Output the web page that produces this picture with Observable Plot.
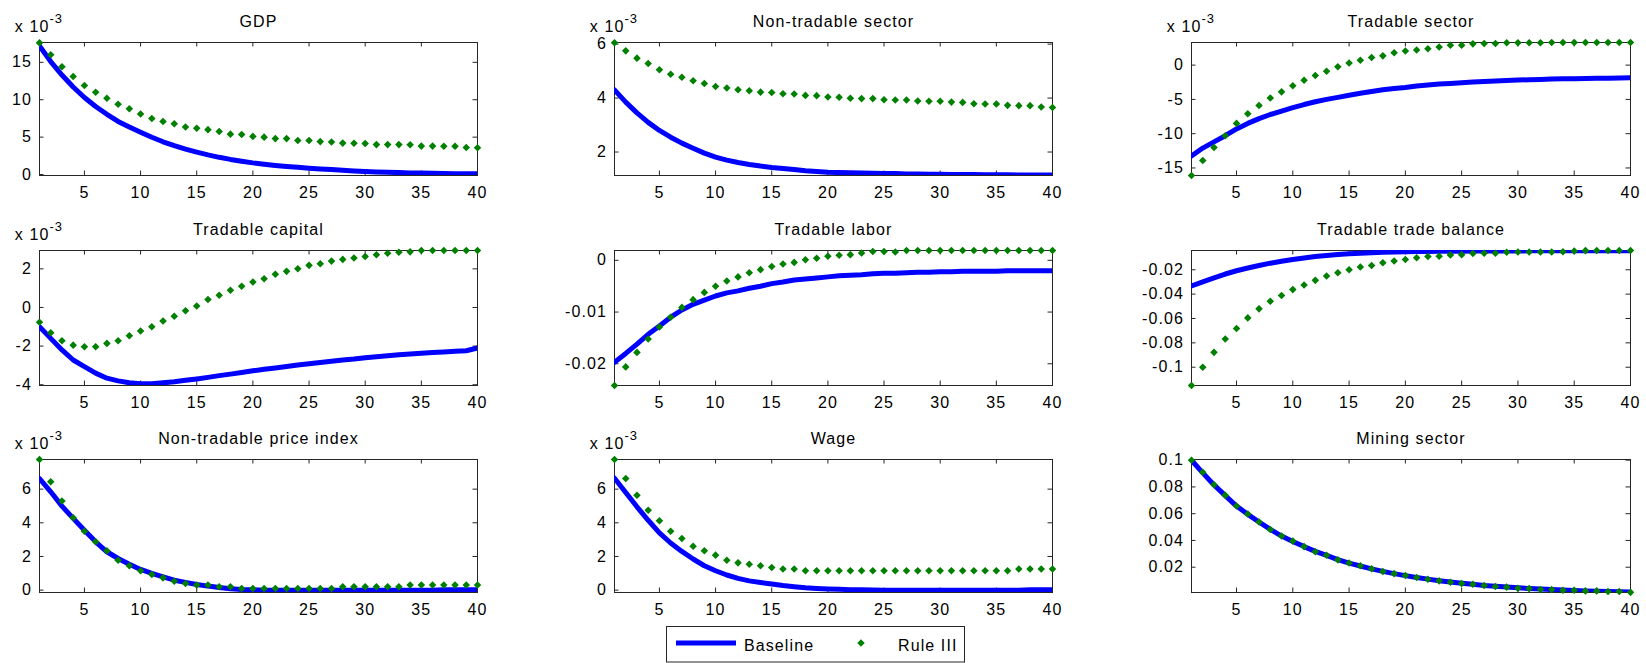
<!DOCTYPE html>
<html>
<head>
<meta charset="utf-8">
<script src="https://cdn.jsdelivr.net/npm/d3@7"></script>
<script src="https://cdn.jsdelivr.net/npm/@observablehq/plot@0.6"></script>
<style>
  body { margin: 0; background: #fff; }
  #chart { position: relative; width: 1646px; height: 663px; overflow: hidden; font-family: "Liberation Sans", Arial, sans-serif; }
  #chart svg { position: absolute; overflow: visible; }
</style>
</head>
<body>
<div id="chart"></div>
<script>
// ---------------- data ----------------
const periods = d3.range(1, 41);
const xTicks = [5, 10, 15, 20, 25, 30, 35, 40];
const seriesNames = ["Baseline", "Rule III"];

const titles = ["GDP", "Non-tradable sector", "Tradable sector",
                "Tradable capital", "Tradable labor", "Tradable trade balance",
                "Non-tradable price index", "Wage", "Mining sector"];
// panels whose values are shown in units of 10^-3
const scaledBy1e3 = [true, true, true, true, false, false, true, true, false];

const gdpBaseline = [17.2, 15.1, 13.3, 11.7, 10.3, 9.1, 8.05, 7.1, 6.35, 5.65, 4.98, 4.38, 3.86, 3.4, 3.0, 2.63, 2.3, 2.02, 1.78, 1.56,
  1.38, 1.22, 1.08, 0.96, 0.85, 0.75, 0.66, 0.57, 0.48, 0.4, 0.35, 0.3, 0.26, 0.22, 0.19, 0.16, 0.14, 0.12, 0.1, 0.09];
const gdpRule = [17.6, 16.0, 14.4, 13.1, 11.9, 11.0, 10.2, 9.4, 8.8, 8.1, 7.5, 7.1, 6.8, 6.35, 6.2, 6.0, 5.75, 5.4, 5.35, 5.1,
  5.0, 4.8, 4.8, 4.55, 4.55, 4.4, 4.35, 4.2, 4.18, 4.15, 4.0, 4.0, 4.0, 3.98, 3.8, 3.8, 3.78, 3.78, 3.6, 3.58];

const ntBaseline = [4.3, 3.85, 3.45, 3.1, 2.8, 2.55, 2.33, 2.14, 1.96, 1.81, 1.7, 1.61, 1.54, 1.48, 1.43, 1.39, 1.35, 1.31, 1.28, 1.25,
  1.24, 1.23, 1.22, 1.21, 1.2, 1.2, 1.19, 1.19, 1.18, 1.18, 1.17, 1.17, 1.17, 1.16, 1.16, 1.16, 1.15, 1.15, 1.15, 1.15];
const ntRule = [6.05, 5.75, 5.48, 5.28, 5.05, 4.88, 4.77, 4.64, 4.54, 4.43, 4.37, 4.31, 4.27, 4.22, 4.21, 4.16, 4.15, 4.1, 4.09, 4.04,
  4.03, 3.99, 3.98, 3.98, 3.94, 3.93, 3.93, 3.89, 3.88, 3.88, 3.85, 3.84, 3.79, 3.78, 3.78, 3.73, 3.72, 3.72, 3.67, 3.65];

const tsBaseline = [-13.25, -12.1, -11.2, -10.3, -9.3, -8.5, -7.8, -7.2, -6.7, -6.2, -5.75, -5.35, -5.0, -4.7, -4.4, -4.1, -3.85, -3.6, -3.4, -3.25,
  -3.05, -2.9, -2.77, -2.67, -2.57, -2.47, -2.38, -2.32, -2.24, -2.18, -2.13, -2.09, -2.04, -2.0, -1.98, -1.95, -1.93, -1.9, -1.88, -1.85];
const tsRule = [-16.1, -13.9, -12.0, -10.3, -8.5, -7.1, -5.9, -4.8, -3.9, -3.0, -2.2, -1.5, -0.9, -0.25, 0.3, 0.7, 1.1, 1.35, 1.8, 2.05,
  2.2, 2.4, 2.65, 2.9, 2.9, 3.1, 3.15, 3.15, 3.25, 3.25, 3.25, 3.25, 3.3, 3.3, 3.3, 3.3, 3.3, 3.3, 3.3, 3.3];

const tkBaseline = [-1.0, -1.6, -2.2, -2.72, -3.06, -3.4, -3.66, -3.8, -3.9, -3.95, -3.95, -3.9, -3.85, -3.77, -3.7, -3.62, -3.53, -3.45, -3.37, -3.28,
  -3.2, -3.13, -3.06, -2.98, -2.91, -2.85, -2.79, -2.72, -2.67, -2.6, -2.55, -2.5, -2.45, -2.41, -2.37, -2.33, -2.3, -2.27, -2.24, -2.1];
const tkRule = [-0.77, -1.31, -1.72, -1.95, -2.03, -2.03, -1.86, -1.72, -1.46, -1.22, -1.0, -0.7, -0.45, -0.17, 0.08, 0.41, 0.63, 0.89, 1.1, 1.32,
  1.49, 1.72, 1.87, 2.01, 2.18, 2.26, 2.4, 2.49, 2.56, 2.64, 2.73, 2.81, 2.86, 2.88, 2.95, 2.95, 2.95, 2.95, 2.95, 2.95];

const tlBaseline = [-0.0197, -0.0180, -0.0162, -0.0143, -0.0127, -0.0110, -0.0096, -0.0085, -0.0077, -0.0069, -0.0063, -0.0059, -0.0054, -0.0050, -0.0045, -0.0042, -0.0038, -0.0036, -0.0034, -0.0032,
  -0.0030, -0.0029, -0.0028, -0.0026, -0.0025, -0.0025, -0.0024, -0.0023, -0.0023, -0.0022, -0.0022, -0.0021, -0.0021, -0.0021, -0.0021, -0.0020, -0.0020, -0.0020, -0.0020, -0.0020];
const tlRule = [-0.0242, -0.0206, -0.0178, -0.0152, -0.0129, -0.0110, -0.0091, -0.0076, -0.0062, -0.0050, -0.0040, -0.0032, -0.0024, -0.0018, -0.0012, -0.0007, -0.0004, 0.0001, 0.0004, 0.0008,
  0.0010, 0.0011, 0.0014, 0.0017, 0.0017, 0.0016, 0.0019, 0.0019, 0.0019, 0.0019, 0.0019, 0.0019, 0.0019, 0.0019, 0.0019, 0.0019, 0.0019, 0.0019, 0.0019, 0.0019];

const tbBaseline = [-0.0333, -0.0300, -0.0266, -0.0235, -0.0208, -0.0186, -0.0165, -0.0146, -0.0130, -0.0116, -0.0103, -0.0092, -0.0083, -0.0075, -0.0069, -0.0064, -0.0060, -0.0057, -0.0055, -0.0053,
  -0.0051, -0.0050, -0.0049, -0.0048, -0.0048, -0.0047, -0.0047, -0.0046, -0.0046, -0.0046, -0.0045, -0.0045, -0.0045, -0.0045, -0.0044, -0.0044, -0.0044, -0.0044, -0.0044, -0.0044];
const tbRule = [-0.115, -0.100, -0.0878, -0.0769, -0.0682, -0.0595, -0.0521, -0.0459, -0.0412, -0.0363, -0.0325, -0.0287, -0.0252, -0.0224, -0.0200, -0.0178, -0.0165, -0.0142, -0.0129, -0.0116,
  -0.0102, -0.0091, -0.0089, -0.0078, -0.0076, -0.0067, -0.0065, -0.0064, -0.0056, -0.0055, -0.0055, -0.0054, -0.0054, -0.0053, -0.0046, -0.0043, -0.0042, -0.0042, -0.0042, -0.0042];

const npBaseline = [6.63, 5.84, 4.99, 4.26, 3.56, 2.87, 2.28, 1.88, 1.54, 1.23, 0.99, 0.79, 0.59, 0.46, 0.34, 0.24, 0.16, 0.08, 0.04, 0.02,
  0.0, 0.0, 0.0, 0.0, 0.0, 0.0, 0.0, 0.0, 0.0, 0.0, 0.0, 0.0, 0.0, 0.0, 0.0, 0.0, 0.03, 0.03, 0.03, 0.03];
const npRule = [7.76, 6.44, 5.29, 4.30, 3.50, 2.87, 2.34, 1.78, 1.45, 1.15, 0.93, 0.73, 0.53, 0.40, 0.30, 0.30, 0.20, 0.20, 0.10, 0.10,
  0.10, 0.10, 0.10, 0.10, 0.10, 0.10, 0.10, 0.20, 0.20, 0.20, 0.20, 0.20, 0.20, 0.30, 0.30, 0.30, 0.30, 0.30, 0.30, 0.30];

const wgBaseline = [6.65, 5.8, 4.95, 4.15, 3.4, 2.8, 2.3, 1.85, 1.45, 1.15, 0.9, 0.7, 0.55, 0.45, 0.36, 0.27, 0.2, 0.14, 0.1, 0.07,
  0.05, 0.03, 0.02, 0.01, 0.0, 0.0, 0.0, 0.0, 0.0, 0.0, 0.0, 0.0, 0.0, 0.0, 0.0, 0.0, 0.0, 0.03, 0.03, 0.03];
const wgRule = [7.76, 6.63, 5.64, 4.75, 4.12, 3.50, 3.07, 2.61, 2.34, 2.08, 1.78, 1.62, 1.54, 1.45, 1.35, 1.25, 1.25, 1.15, 1.15, 1.15,
  1.15, 1.15, 1.15, 1.15, 1.15, 1.15, 1.15, 1.15, 1.15, 1.15, 1.15, 1.15, 1.15, 1.15, 1.15, 1.15, 1.25, 1.25, 1.25, 1.25];

const mnBaseline = [0.1, 0.0905, 0.0815, 0.0735, 0.0657, 0.0595, 0.0538, 0.0483, 0.0433, 0.0393, 0.0354, 0.0318, 0.0288, 0.0257, 0.0231, 0.0209, 0.0188, 0.0169, 0.0152, 0.0137,
  0.0123, 0.0111, 0.0099, 0.0089, 0.0080, 0.0072, 0.0064, 0.0058, 0.0052, 0.0046, 0.0041, 0.0037, 0.0033, 0.0029, 0.0026, 0.0023, 0.0021, 0.0018, 0.0016, 0.0014];
const mnRule = [0.1, 0.0909, 0.0817, 0.0737, 0.0657, 0.0597, 0.0538, 0.0482, 0.0433, 0.0395, 0.0354, 0.0316, 0.0289, 0.0255, 0.0231, 0.0211, 0.0189, 0.0168, 0.0152, 0.0138,
  0.0123, 0.0110, 0.0098, 0.0088, 0.0078, 0.0073, 0.0063, 0.0056, 0.0051, 0.0043, 0.0040, 0.0033, 0.0033, 0.0028, 0.0028, 0.0023, 0.0023, 0.0018, 0.0018, 0.0012];

const baselineSeries = [gdpBaseline, ntBaseline, tsBaseline, tkBaseline, tlBaseline, tbBaseline, npBaseline, wgBaseline, mnBaseline];
const ruleSeries = [gdpRule, ntRule, tsRule, tkRule, tlRule, tbRule, npRule, wgRule, mnRule];

const yTicks = [[0, 5, 10, 15], [2, 4, 6], [-15, -10, -5, 0], [-4, -2, 0, 2], [-0.02, -0.01, 0],
                [-0.1, -0.08, -0.06, -0.04, -0.02], [0, 2, 4, 6], [0, 2, 4, 6], [0.02, 0.04, 0.06, 0.08, 0.1]];
const yDomains = [[-0.13, 17.65], [1.13, 6.06], [-16.1, 3.3], [-4.04, 2.95], [-0.0242, 0.0019],
                  [-0.115, -0.0042], [-0.14, 7.76], [-0.14, 7.76], [0.0011, 0.1005]];

// ---------------- layout / style ----------------
const colLeft = [39, 614, 1191], colRight = [477, 1052, 1630];
const rowTop = [42, 250, 459], rowBottom = [175, 385, 592];
const FONT = '"Liberation Sans", Arial, Helvetica, sans-serif';
const BLUE = "#0000ff", GREEN = "#008000", AXIS = "#262626";
const TICK = 4.5;
const MARKER_R = 3.4;

const chart = document.getElementById("chart");
const fmt = d => String(+(+d).toPrecision(6));

titles.forEach((title, i) => {
  const col = i % 3, row = Math.floor(i / 3);
  const L = colLeft[col], R = colRight[col], T = rowTop[row], B = rowBottom[row];
  const W = R - L, H = B - T;
  const mL = 80, mR = 24, mT = 48, mB = 36;
  const data = periods.map((t, j) => ({t, base: baselineSeries[i][j], rule: ruleSeries[i][j]}));
  const yt = yTicks[i];

  const svg = Plot.plot({
    width: W + mL + mR, height: H + mT + mB,
    marginLeft: mL, marginRight: mR, marginTop: mT, marginBottom: mB,
    style: {fontFamily: FONT, fontSize: "16px", color: "#000", background: "none", overflow: "visible", letterSpacing: "1.1px"},
    x: {domain: [1, 40], label: null},
    y: {domain: yDomains[i], label: null},
    marks: [
      Plot.frame({stroke: AXIS, strokeWidth: 1}),
      Plot.tickX(xTicks, {x: d => d, insetTop: H - TICK, stroke: AXIS}),
      Plot.tickX(xTicks, {x: d => d, insetBottom: H - TICK, stroke: AXIS}),
      Plot.tickY(yt, {y: d => d, insetRight: W - TICK, stroke: AXIS}),
      Plot.tickY(yt, {y: d => d, insetLeft: W - TICK, stroke: AXIS}),
      Plot.axisX({ticks: xTicks, tickSize: 0, tickPadding: 11.5, tickFormat: fmt, fill: "#000"}),
      Plot.axisY({ticks: yt, tickSize: 0, tickPadding: 7.5, tickFormat: fmt, fill: "#000"}),
      Plot.line(data, {x: "t", y: "base", stroke: BLUE, strokeWidth: 5, clip: true}),
      Plot.dot(data, {x: "t", y: "rule", symbol: "diamond2", r: MARKER_R, fill: GREEN, stroke: "none"}),
      Plot.text([title], {frameAnchor: "top", dy: -20.5, lineAnchor: "middle", fontSize: 16, fill: "#000"})
    ]
  });
  svg.style.left = (L - mL) + "px";
  svg.style.top = (T - mT) + "px";

  if (scaledBy1e3[i]) {
    const ex = d3.select(svg).append("text")
      .attr("x", mL).attr("y", mT - 10)
      .attr("fill", "#000")
      .style("font-size", "16px").style("letter-spacing", "1.1px");
    ex.append("tspan").text("x 10");
    ex.append("tspan").attr("dy", -9).style("font-size", "13px").text("-3");
  }
  chart.appendChild(svg);
});

// ---------------- legend ----------------
const leg = d3.select(chart).append("svg")
  .attr("width", 320).attr("height", 45)
  .style("left", "660px").style("top", "620px")
  .style("font-family", FONT).style("font-size", "16px").style("letter-spacing", "1.1px");
leg.append("rect").attr("x", 6.5).attr("y", 6.5).attr("width", 298).attr("height", 35.5)
  .attr("fill", "#fff").attr("stroke", AXIS);
leg.append("line").attr("x1", 16).attr("x2", 76).attr("y1", 23).attr("y2", 23)
  .attr("stroke", BLUE).attr("stroke-width", 5);
leg.append("text").attr("x", 84).attr("y", 30.5).attr("fill", "#000").text(seriesNames[0]);
leg.append("path").attr("d", d3.symbol(d3.symbolDiamond2, Math.PI * MARKER_R * MARKER_R)())
  .attr("transform", "translate(201,23)").attr("fill", GREEN);
leg.append("text").attr("x", 238).attr("y", 30.5).attr("fill", "#000").text(seriesNames[1]);
</script>
</body>
</html>
